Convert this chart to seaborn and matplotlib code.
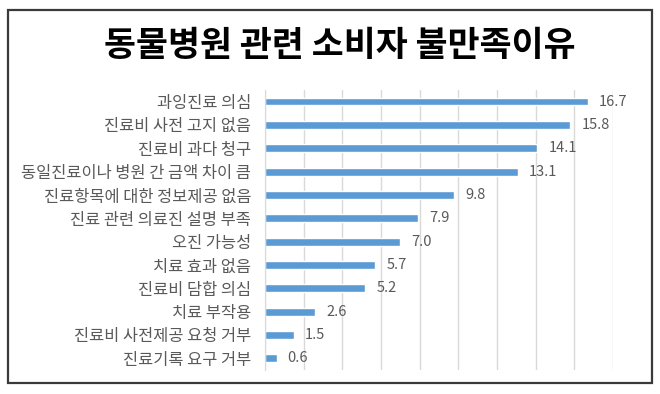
import matplotlib
matplotlib.use("Agg")
import matplotlib.pyplot as plt
import matplotlib.patches as mpatches
import seaborn as sns
import pandas as pd

# Data
reasons = [
    "과잉진료 의심",
    "진료비 사전 고지 없음",
    "진료비 과다 청구",
    "동일진료이나 병원 간 금액 차이 큼",
    "진료항목에 대한 정보제공 없음",
    "진료 관련 의료진 설명 부족",
    "오진 가능성",
    "치료 효과 없음",
    "진료비 담합 의심",
    "치료 부작용",
    "진료비 사전제공 요청 거부",
    "진료기록 요구 거부",
]
values = [16.7, 15.8, 14.1, 13.1, 9.8, 7.9, 7.0, 5.7, 5.2, 2.6, 1.5, 0.6]
title = "동물병원 관련 소비자 불만족이유"

df = pd.DataFrame({"reason": reasons, "value": values})

sns.set_style("white")
plt.rcParams["font.family"] = ["Noto Sans CJK KR", "DejaVu Sans"]

fig = plt.figure(figsize=(6.6, 3.94), dpi=100)
ax = fig.add_axes([0.4015, 0.061, 0.527, 0.711])

sns.barplot(data=df, x="value", y="reason", orient="h", color="#5B9BD5",
            width=0.34, saturation=1, ax=ax)

ax.set_xlim(0, 18)
ax.set_xticks(range(0, 19, 2))
ax.xaxis.grid(True, color="#D9D9D9", lw=1)
ax.set_axisbelow(True)
ax.tick_params(axis="x", length=0, labelbottom=False)
ax.tick_params(axis="y", length=0, labelsize=11.8, labelcolor="#595959", pad=10)
ax.set_xlabel("")
ax.set_ylabel("")
for s in ax.spines.values():
    s.set_visible(False)
ax.spines["left"].set_visible(True)
ax.spines["left"].set_color("#D9D9D9")

ax.bar_label(ax.containers[0], fmt="%.1f", padding=8, fontsize=10.5,
             color="#595959")

fig.text(0.515, 0.885, title, ha="center", va="center", fontsize=25,
         fontweight="bold", color="#000000")

# outer frame
fig.patches.append(mpatches.Rectangle((0.012, 0.028), 0.976, 0.947,
                                      transform=fig.transFigure, fill=False,
                                      edgecolor="#3A3A3A", lw=1.6))

fig.savefig("out.png", dpi=100)
